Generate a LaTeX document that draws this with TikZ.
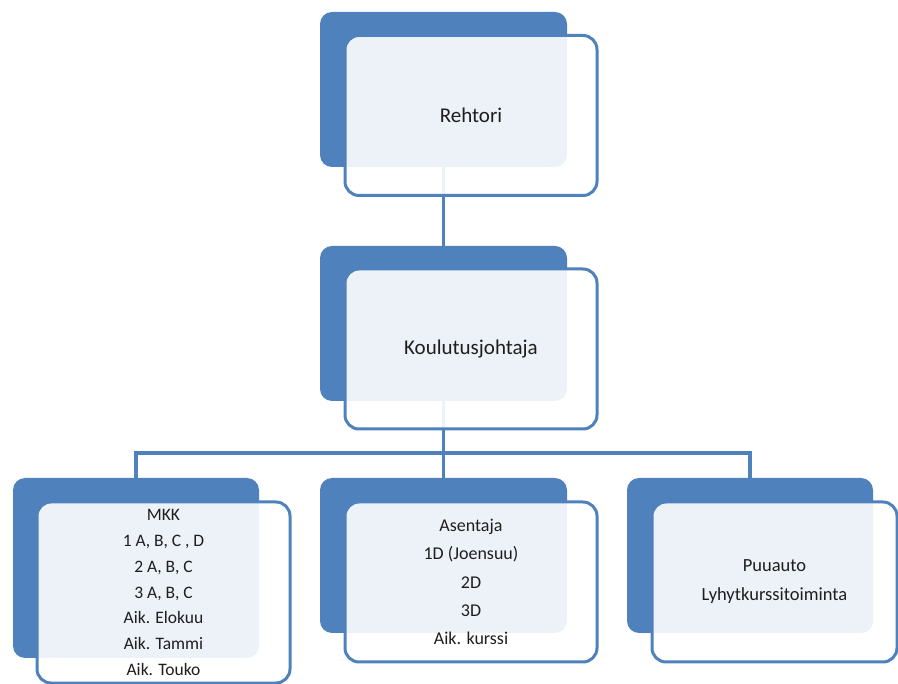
\documentclass[tikz,border=0pt]{standalone}
\usepackage{fontspec}
\setmainfont{Carlito}
\definecolor{accent}{HTML}{4F81BD}
\definecolor{ink}{HTML}{1E1E1E}
\begin{document}
\begin{tikzpicture}[x=1pt,y=-1pt,
  backbox/.style={rectangle, rounded corners=12pt, fill=accent, inner sep=0pt},
  frontbox/.style={rectangle, rounded corners=14pt, draw=accent, line width=3pt,
    fill=white, fill opacity=0.9, draw opacity=1, text opacity=1, text=ink,
    inner sep=0pt, align=center},
  link/.style={draw=accent, line width=3.2pt},
  bigtext/.style={font=\fontsize{21}{25}\selectfont},
  smalltext/.style={font=\fontsize{18}{28.25}\selectfont}]
\useasboundingbox (0,0) rectangle (898,684);

% coloured back plates
\node[backbox, minimum width=247pt, minimum height=155pt] (rB) at (443.5,89.5) {};
\node[backbox, minimum width=247pt, minimum height=155pt] (kB) at (443.5,323.5) {};
\node[backbox, minimum width=246pt, minimum height=180pt] (lB) at (136,568) {};
\node[backbox, minimum width=247pt, minimum height=155pt] (mB) at (443.5,555.5) {};
\node[backbox, minimum width=246pt, minimum height=155pt] (tB) at (750,555.5) {};

% connectors between the plates
\coordinate (bus) at (443.5,453);
\draw[link] (rB.south) -- (kB.north);
\draw[link] (kB.south) -- (mB.north);
\draw[link] (lB.north) |- (bus) -| (tB.north);

% translucent text cards
\node[frontbox, bigtext, minimum width=252pt, minimum height=160pt] (rF) at (471,115.5) {Rehtori};
\node[frontbox, bigtext, minimum width=252pt, minimum height=160pt] (kF) at (471,349) {Koulutusjohtaja};
\node[frontbox, minimum width=253pt, minimum height=181pt,
  font=\fontsize{17.5}{25.8}\selectfont] (lF) at (163.5,592.5)
  {MKK\\1 A, B, C , D\\2 A, B, C\\3 A, B, C\\Aik. Elokuu\\Aik. Tammi\\Aik. Touko};
\node[frontbox, smalltext, minimum width=252pt, minimum height=160pt] (mF) at (471,582)
  {Asentaja\\1D (Joensuu)\\2D\\3D\\Aik. kurssi};
\node[frontbox, minimum width=245pt, minimum height=160pt,
  font=\fontsize{18.5}{29}\selectfont] (tF) at (774.5,582)
  {Puuauto\\Lyhytkurssitoiminta};
\end{tikzpicture}
\end{document}
